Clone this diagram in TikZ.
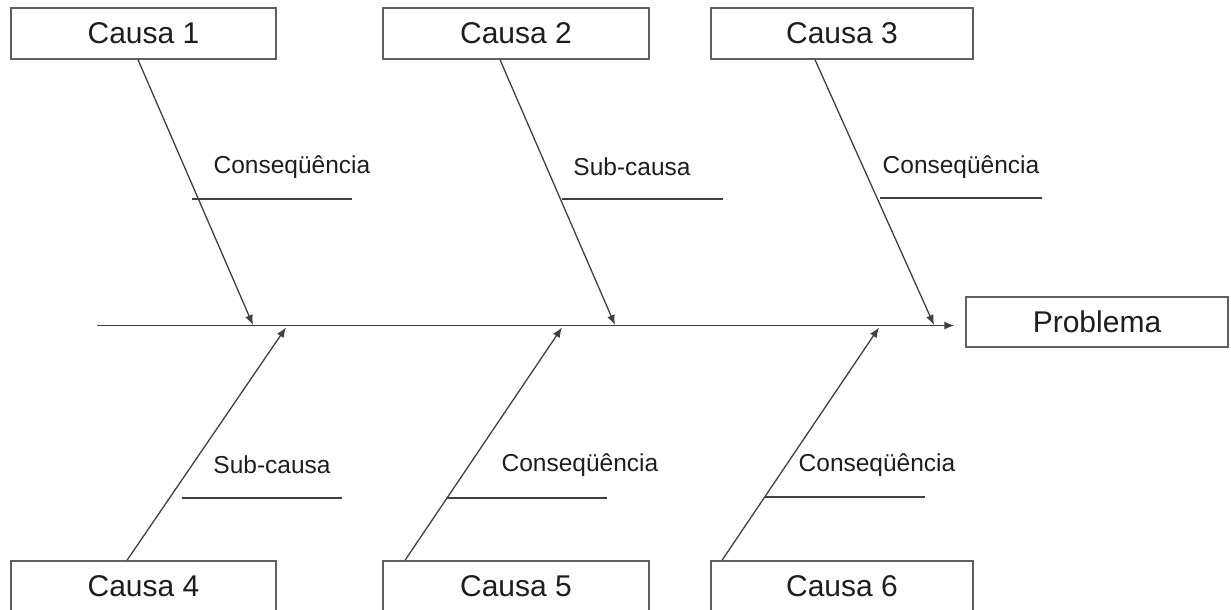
\documentclass[tikz,border=0pt]{standalone}
\usepackage{fontspec}
\setmainfont{Liberation Sans}
\usetikzlibrary{arrows.meta}
\definecolor{linegray}{HTML}{404040}
\definecolor{boxgray}{HTML}{606060}
\definecolor{textgray}{HTML}{1E1E1E}
\begin{document}
\begin{tikzpicture}[x=1pt,y=-1pt,
  causebox/.style={draw=boxgray,line width=1.4pt,fill=white,inner sep=0pt,
    minimum height=51pt,text=textgray,font=\fontsize{30}{36}\selectfont},
  branchlabel/.style={inner sep=0pt,text=textgray,font=\fontsize{24.5}{29}\selectfont},
  bone/.style={draw=linegray,line width=1.3pt,-{Latex[length=10pt,width=8pt]}},
  underline/.style={draw=linegray,line width=1.4pt}]
\useasboundingbox (0,0) rectangle (1231,610);
\clip (0,0) rectangle (1231,610);
% cause boxes
\node[causebox,minimum width=265pt] (c1) at (143.5,33.5) {Causa 1};
\node[causebox,minimum width=266pt] (c2) at (516,33.5) {Causa 2};
\node[causebox,minimum width=262pt] (c3) at (842,33.5) {Causa 3};
\node[causebox,minimum width=265pt] (c4) at (143.5,586.5) {Causa 4};
\node[causebox,minimum width=266pt] (c5) at (516,586.5) {Causa 5};
\node[causebox,minimum width=262pt] (c6) at (842,586.5) {Causa 6};
\node[causebox,minimum width=262pt,minimum height=50pt] (pb) at (1097,322) {Problema};
% spine
\coordinate (tail) at (97,325.5);
\draw[bone] (tail) -- ([xshift=-11pt,yshift=-3.5pt]pb.west);
% where the bones meet the spine
\coordinate (s1) at (253,325);
\coordinate (s2) at (615,325);
\coordinate (s3) at (934,325);
\coordinate (s4) at (286,327.5);
\coordinate (s5) at (562,327.5);
\coordinate (s6) at (879,327.5);
% bones
\draw[bone] ([xshift=-5.5pt]c1.south) -- (s1);
\draw[bone] ([xshift=-16pt]c2.south) -- (s2);
\draw[bone] ([xshift=-27pt]c3.south) -- (s3);
\draw[bone] ([xshift=-16.5pt]c4.north) -- (s4);
\draw[bone] ([xshift=-111pt]c5.north) -- (s5);
\draw[bone] ([xshift=-120pt]c6.north) -- (s6);
% branch labels
\node[branchlabel] (b1) at (292,167) {Conseqüência};
\node[branchlabel] (b2) at (632,167) {Sub-causa};
\node[branchlabel] (b3) at (961,167) {Conseqüência};
\node[branchlabel] (b4) at (272,465) {Sub-causa};
\node[branchlabel] (b5) at (580,465) {Conseqüência};
\node[branchlabel] (b6) at (877,465) {Conseqüência};
% lines under the branch labels
\coordinate (u1a) at (192,199); \coordinate (u1b) at (352,199);
\coordinate (u2a) at (562,199); \coordinate (u2b) at (723,199);
\coordinate (u3a) at (880,198); \coordinate (u3b) at (1042,198);
\coordinate (u4a) at (182,498); \coordinate (u4b) at (342,498);
\coordinate (u5a) at (447,498); \coordinate (u5b) at (607,498);
\coordinate (u6a) at (765,497); \coordinate (u6b) at (925,497);
\draw[underline] (u1a) -- (u1b);
\draw[underline] (u2a) -- (u2b);
\draw[underline] (u3a) -- (u3b);
\draw[underline] (u4a) -- (u4b);
\draw[underline] (u5a) -- (u5b);
\draw[underline] (u6a) -- (u6b);
\end{tikzpicture}
\end{document}
